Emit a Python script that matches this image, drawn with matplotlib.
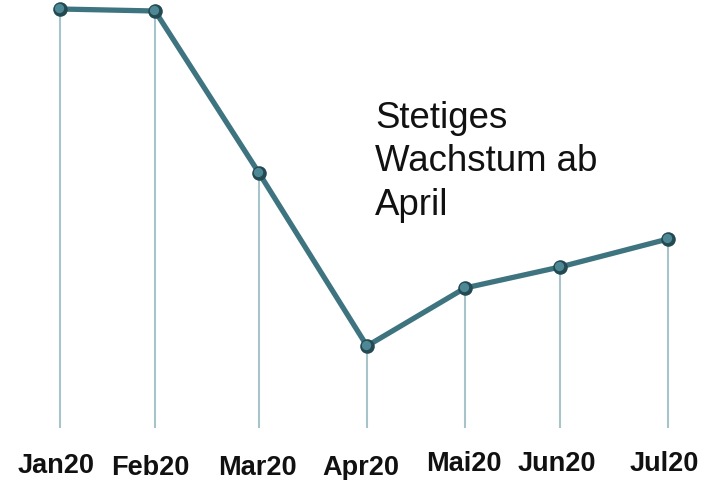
import matplotlib
matplotlib.use("Agg")
import matplotlib.pyplot as plt

# data (arbitrary units, baseline = 0)
months = ["Jan20", "Feb20", "Mar20", "Apr20", "Mai20", "Jun20", "Jul20"]
values = [419, 417, 255, 82, 140, 161, 189]

# layout: horizontal slot of each month and label placement (pixels)
x_pos = [60, 155, 259, 367, 465, 560, 668]
label_x = [56, 150, 257, 361, 464, 557, 664]
label_base = [473, 475, 475, 475, 471, 471, 471]

W, H = 708, 481
BASE = 429  # pixel row of value 0

fig = plt.figure(figsize=(W / 100, H / 100), dpi=100)
ax = fig.add_axes([0, 0, 1, 1])
ax.set_xlim(0, W)
ax.set_ylim(BASE - H, BASE)
ax.axis("off")

line_col = "#3e7480"
drop_col = "#a9c3ca"

# drop lines
ax.vlines(x_pos, 0, values, color=drop_col, lw=1.5, zorder=1)

# main line
ax.plot(x_pos, values, color=line_col, lw=3.8, solid_capstyle="round", zorder=2)

# shaded "ball" markers
ax.scatter(x_pos, values, s=110, color="#234a53", zorder=3, linewidths=0)
ax.scatter([x - 1 for x in x_pos], [v + 1 for v in values], s=45,
           color="#4d8894", zorder=4, linewidths=0)

for lx, lb, m in zip(label_x, label_base, months):
    ax.text(lx, BASE - lb, m, ha="center", va="baseline",
            fontsize=19.5, fontweight="bold", family="Liberation Sans", color="#111111")

# baseline of the last line ("April")
ax.text(375, BASE - 215, "Stetiges\nWachstum ab\nApril", ha="left", va="baseline",
        fontsize=26.4, family="Liberation Sans", color="#111111", linespacing=1.32,
        multialignment="left")

fig.savefig("out.png", dpi=100)
